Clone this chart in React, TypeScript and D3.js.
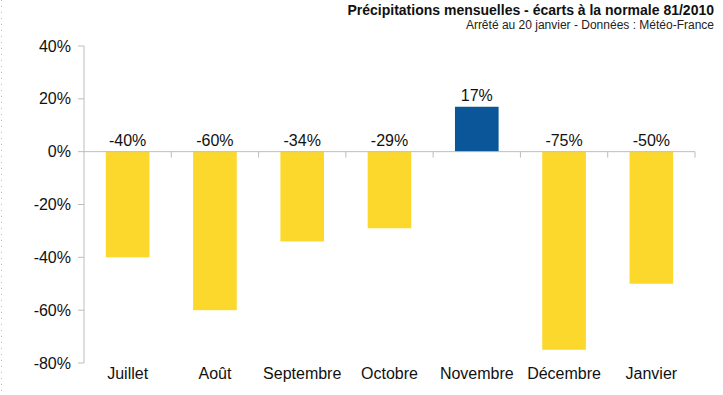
import * as d3 from "d3";
import React from "react";

const months = ["Juillet", "Août", "Septembre", "Octobre", "Novembre", "Décembre", "Janvier"];
const ecarts = [-40, -60, -34, -29, 17, -75, -50];
const yTicks = [40, 20, 0, -20, -40, -60, -80];

const W = 723;
const H = 395;
const left = 84;
const right = 695;
const top = 46;
const bottom = 363;

const App: React.FC = () => {
    const x = d3.scaleBand<string>().domain(months).range([left, right]).paddingInner(0.5).paddingOuter(0.25);
    const y = d3.scaleLinear().domain([-80, 40]).range([bottom, top]);
    const y0 = y(0);
    const step = x.step();
    const font = "'Liberation Sans', Arial, sans-serif";

    return (
        <svg width={W} height={H} style={{ position: "absolute", left: 0, top: 0, background: "#fff" }} fontFamily={font}>
            {/* dotted border on the left */}
            <line x1={1.5} x2={1.5} y1={0} y2={H} stroke="#bbb" strokeDasharray="1,5" />

            <text x={714} y={15} textAnchor="end" fontSize={14} fontWeight="bold" fill="#111">
                Précipitations mensuelles - écarts à la normale 81/2010
            </text>
            <text x={714} y={29} textAnchor="end" fontSize={12} fill="#222">
                Arrêté au 20 janvier - Données : Météo-France
            </text>

            {/* y axis */}
            <line x1={left} x2={left} y1={y(40)} y2={y(-80)} stroke="#bdbdbd" />
            {yTicks.map(t => (
                <g key={t}>
                    <line x1={left - 6} x2={left} y1={y(t)} y2={y(t)} stroke="#bdbdbd" />
                    <text x={left - 13} y={y(t)} dy="0.35em" textAnchor="end" fontSize={16} fill="#111">
                        {t}%
                    </text>
                </g>
            ))}

            {/* bars */}
            {months.map((m, i) => {
                const v = ecarts[i];
                return (
                    <rect
                        key={m}
                        x={x(m)}
                        width={x.bandwidth()}
                        y={Math.min(y(v), y0)}
                        height={Math.abs(y(v) - y0)}
                        fill={v >= 0 ? "#0b5699" : "#fdd82c"}
                    />
                );
            })}

            {/* zero line with category ticks */}
            <line x1={left} x2={right} y1={y0} y2={y0} stroke="#bdbdbd" />
            {months.map((m, i) => (
                <line key={m} x1={left + step * (i + 1)} x2={left + step * (i + 1)} y1={y0} y2={y0 + 6} stroke="#bdbdbd" />
            ))}

            {/* value labels */}
            {months.map((m, i) => {
                const v = ecarts[i];
                const ly = v >= 0 ? y(v) - 6 : y0 - 6;
                return (
                    <text key={m} x={(x(m) ?? 0) + x.bandwidth() / 2} y={ly} textAnchor="middle" fontSize={16} fill="#111">
                        {v}%
                    </text>
                );
            })}

            {/* category labels */}
            {months.map(m => (
                <text key={m} x={(x(m) ?? 0) + x.bandwidth() / 2} y={379} textAnchor="middle" fontSize={16} fill="#111">
                    {m}
                </text>
            ))}
        </svg>
    );
};

export default App;
